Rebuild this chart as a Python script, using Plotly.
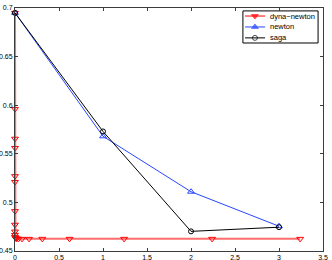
import plotly.graph_objects as go

# dyna-newton
dn_x = [0, 0, 0, 0, 0, 0, 0, 0, 0, 0, 0, 0.005, 0.01, 0.02, 0.04, 0.08, 0.16, 0.31, 0.62, 1.24, 2.24, 3.24]
dn_y = [0.695, 0.596, 0.5655, 0.556, 0.527, 0.521, 0.491, 0.477, 0.470, 0.4665, 0.4645,
        0.4635, 0.463, 0.4627, 0.4626, 0.4625, 0.4625, 0.4625, 0.4625, 0.4625, 0.4625, 0.4625]
# newton
nt_x = [0, 1, 2, 3]
nt_y = [0.695, 0.568, 0.511, 0.4755]
# saga
sg_x = [0, 1, 2, 3]
sg_y = [0.695, 0.573, 0.4702, 0.4745]

x_ticks = [0, 0.5, 1, 1.5, 2, 2.5, 3, 3.5]
x_labels = ["0", "0.5", "1", "1.5", "2", "2.5", "3", "3.5"]
y_ticks = [0.45, 0.5, 0.55, 0.6, 0.65, 0.7]
y_labels = ["0.45", "0.5", "0.55", "0.6", "0.65", "0.7"]

series_names = ["dyna\u2212newton", "newton", "saga"]

RED_LINE = "rgb(255,110,110)"
RED = "rgb(255,0,0)"
BLUE = "rgb(40,70,255)"
BLACK = "black"

styles = [
    dict(line=RED_LINE, lw=2, mcolor=RED, symbol="triangle-down-open", size=6),
    dict(line=BLUE, lw=1, mcolor=BLUE, symbol="triangle-up-open", size=6),
    dict(line=BLACK, lw=1, mcolor=BLACK, symbol="circle-open", size=5),
]

fig = go.Figure()
for xs, ys, name, st in zip([dn_x, nt_x, sg_x], [dn_y, nt_y, sg_y], series_names, styles):
    fig.add_trace(go.Scatter(x=xs, y=ys, name=name, mode="lines+markers",
                             line=dict(color=st["line"], width=st["lw"]),
                             marker=dict(symbol=st["symbol"], size=st["size"],
                                         color=st["mcolor"], line=dict(width=1)),
                             cliponaxis=False, showlegend=False))

axis_common = dict(showline=True, linecolor="rgb(60,60,60)", linewidth=1, mirror="ticks",
                   ticks="inside", ticklen=3, tickcolor="rgb(60,60,60)",
                   showgrid=False, zeroline=False, automargin=False,
                   tickfont=dict(family="Liberation Sans, Arial", size=7, color="black"))
fig.update_xaxes(range=[0, 3.5], tickvals=x_ticks, ticktext=x_labels, **axis_common)
fig.update_yaxes(range=[0.45, 0.7], tickvals=y_ticks, ticktext=y_labels, **axis_common)

# Manual legend (decoration in paper coordinates)
lg_x0, lg_x1, lg_top, lg_bot = 0.740, 0.984, 0.988, 0.856
row_y = [0.967, 0.922, 0.877]
line_x0, line_x1, mark_x, text_x = 0.747, 0.812, 0.779, 0.821

shapes = [dict(type="rect", xref="paper", yref="paper", x0=lg_x0, x1=lg_x1, y0=lg_bot, y1=lg_top,
               line=dict(color="black", width=1), fillcolor="white", layer="below")]
annotations = []
for ry, name, st in zip(row_y, series_names, styles):
    lc = RED if st["line"] == RED_LINE else st["line"]
    shapes.append(dict(type="line", xref="paper", yref="paper", x0=line_x0, x1=line_x1,
                       y0=ry, y1=ry, line=dict(color=lc, width=1), layer="below"))
    annotations.append(dict(xref="paper", yref="paper", x=text_x, y=ry, text=name,
                            showarrow=False, xanchor="left", yanchor="middle",
                            font=dict(family="Liberation Sans, Arial", size=7.5, color="black")))

fig.add_trace(go.Scatter(
    x=[mark_x] * 3, y=row_y, xaxis="x2", yaxis="y2", mode="markers", showlegend=False,
    hoverinfo="skip",
    marker=dict(symbol=["triangle-down", "triangle-up", "circle-open"], size=[6, 6, 5],
                color=[RED, BLUE, BLACK], line=dict(width=1, color=[RED, BLUE, BLACK])),
    cliponaxis=False))

fig.update_layout(
    width=332, height=260,
    margin=dict(l=15, r=9, t=8, b=9),
    paper_bgcolor="white", plot_bgcolor="white",
    showlegend=False,
    shapes=shapes, annotations=annotations,
    xaxis2=dict(overlaying="x", range=[0, 1], visible=False, fixedrange=True),
    yaxis2=dict(overlaying="y", range=[0, 1], visible=False, fixedrange=True),
)

fig.write_html("out.html", config={"displayModeBar": False},
               post_script="document.body.style.margin='0px';")
